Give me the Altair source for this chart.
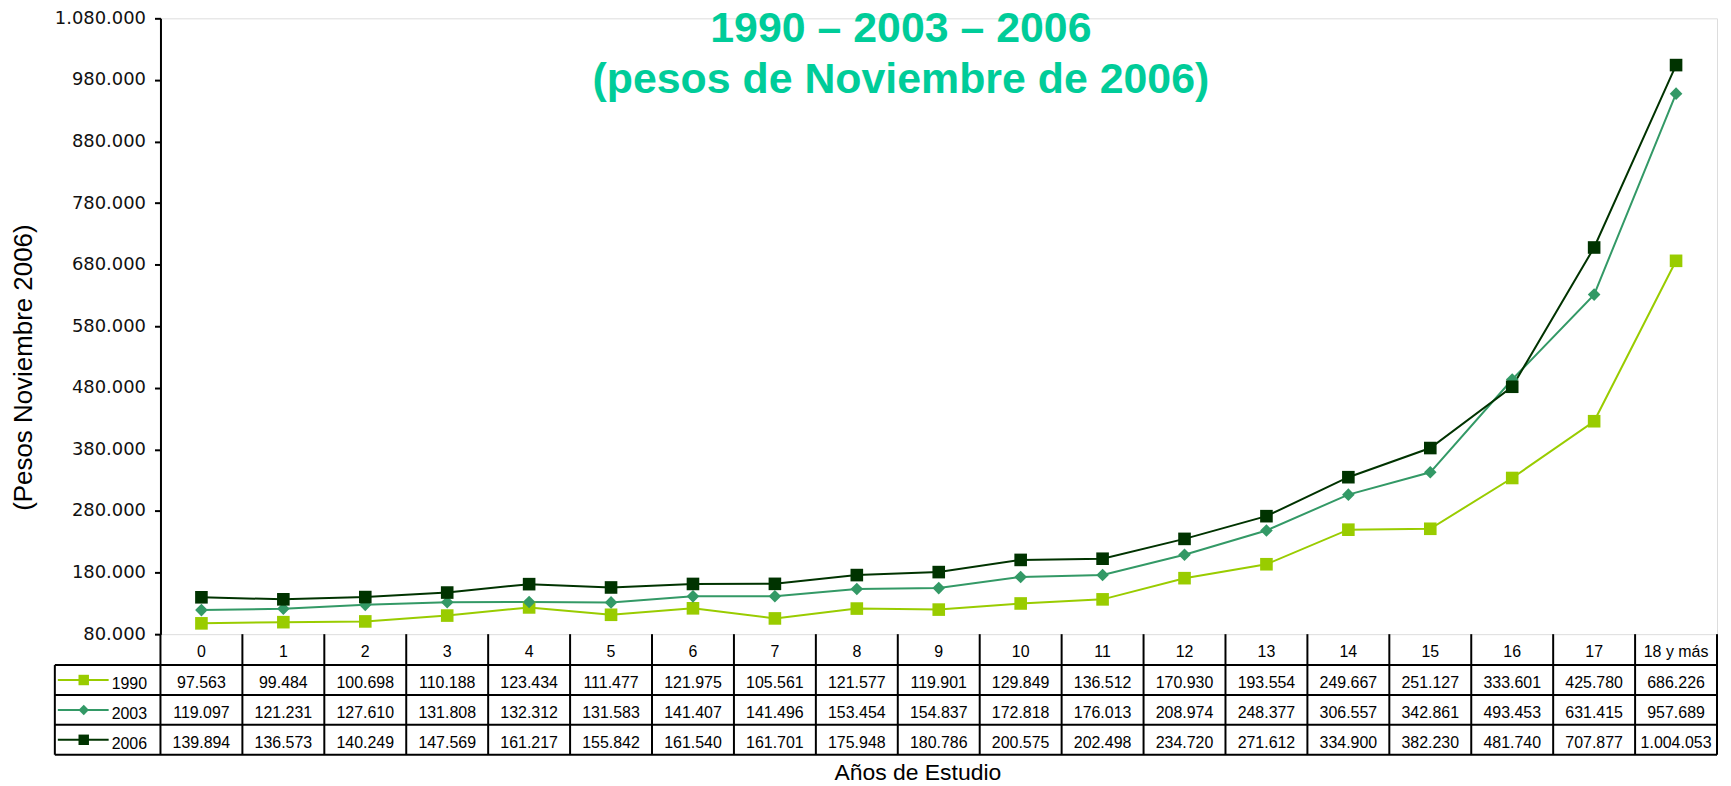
import altair as alt
import pandas as pd

# ---------------- data ----------------
cats = ["0", "1", "2", "3", "4", "5", "6", "7", "8", "9", "10", "11", "12",
        "13", "14", "15", "16", "17", "18 y más"]
years = ["1990", "2003", "2006"]
v1990 = [97563, 99484, 100698, 110188, 123434, 111477, 121975, 105561, 121577,
         119901, 129849, 136512, 170930, 193554, 249667, 251127, 333601, 425780, 686226]
v2003 = [119097, 121231, 127610, 131808, 132312, 131583, 141407, 141496, 153454,
         154837, 172818, 176013, 208974, 248377, 306557, 342861, 493453, 631415, 957689]
v2006 = [139894, 136573, 140249, 147569, 161217, 155842, 161540, 161701, 175948,
         180786, 200575, 202498, 234720, 271612, 334900, 382230, 481740, 707877, 1004053]
title1 = "1990 – 2003 – 2006"
title2 = "(pesos de Noviembre de 2006)"
x_title = "Años de Estudio"
y_title = "(Pesos Noviembre 2006)"
y_ticks = list(range(80000, 1080001, 100000))

colors = ["#99CC00", "#339966", "#003300"]
shapes = ["square", "diamond", "square"]

recs = []
for yr, vals in zip(years, [v1990, v2003, v2006]):
    for c, v in zip(cats, vals):
        recs.append({"year": yr, "row": yr, "cat": c, "val": v,
                     "lbl": f"{v:,}".replace(",", ".")})
df = pd.DataFrame(recs)
hdr = pd.DataFrame({"cat": cats, "row": ["hdr"] * len(cats)})
leg = pd.DataFrame({"year": years, "row": years})
one = pd.DataFrame({"a": [0]})

W, H = 1562, 618
FONT = "Liberation Sans"

xscale = alt.Scale(domain=cats, type="band", paddingInner=0, paddingOuter=0)
yscale = alt.Scale(domain=[80000, 1080000], nice=False, zero=False)
rowscale = alt.Scale(domain=["hdr"] + years, range=[619, 739], type="band",
                     paddingInner=0, paddingOuter=0)
colscale = alt.Scale(domain=years, range=colors)
shapescale = alt.Scale(domain=years, range=shapes)

x_main = alt.X(
    "cat:N", scale=xscale, bandPosition=0.5,
    axis=alt.Axis(labels=False, ticks=False, domain=True, domainColor="black",
                  domainWidth=2, grid=False, title=None))
y_main = alt.Y(
    "val:Q", scale=yscale,
    axis=alt.Axis(values=y_ticks,
                  labelExpr="replace(format(datum.value, ','), regexp(',', 'g'), '.')",
                  labelFont="DejaVu Sans", labelFontSize=18, labelColor="#111111",
                  labelPadding=9, tickSize=6, tickColor="black", tickWidth=2,
                  domainColor="black", domainWidth=2, grid=False,
                  title=y_title, titleFont=FONT, titleFontSize=26,
                  titleFontWeight="normal", titleColor="black", titleX=-137,
                  titleY=350, titleAngle=-90, titleAlign="center",
                  titleBaseline="middle"))

lines = alt.Chart(df).mark_line(strokeWidth=2).encode(
    x=x_main, y=y_main,
    color=alt.Color("year:N", scale=colscale, legend=None))
points = alt.Chart(df).mark_point(filled=True, opacity=1, size=160).encode(
    x=alt.X("cat:N", scale=xscale, bandPosition=0.5, axis=None),
    y=alt.Y("val:Q", scale=yscale, axis=None),
    color=alt.Color("year:N", scale=colscale, legend=None),
    shape=alt.Shape("year:N", scale=shapescale, legend=None))

x_tab = alt.X("cat:N", scale=xscale, bandPosition=0.5, axis=None)
y_row = alt.Y("row:N", scale=rowscale, bandPosition=0.5, axis=None)

hdr_text = alt.Chart(hdr).mark_text(font=FONT, fontSize=16, color="black",
                                    baseline="middle", dy=2).encode(
    x=x_tab, y=y_row, text="cat:N")
val_text = alt.Chart(df).mark_text(font=FONT, fontSize=16, color="black",
                                   baseline="middle", dy=3).encode(
    x=x_tab, y=y_row, text="lbl:N")

leg_line = alt.Chart(leg).mark_rule(strokeWidth=2).encode(
    x=alt.value(-103), x2=alt.value(-52), y=y_row,
    color=alt.Color("year:N", scale=colscale, legend=None))
leg_pt = alt.Chart(leg).mark_point(filled=True, opacity=1, size=110).encode(
    x=alt.value(-77), y=y_row,
    color=alt.Color("year:N", scale=colscale, legend=None),
    shape=alt.Shape("year:N", scale=shapescale, legend=None))
leg_txt = alt.Chart(leg).mark_text(font=FONT, fontSize=16, color="black",
                                   align="left", baseline="middle", dy=4).encode(
    x=alt.value(-49), y=y_row, text="year:N")

vgrid = alt.Chart(hdr).mark_rule(color="black", strokeWidth=2).encode(
    x=alt.X("cat:N", scale=xscale, bandPosition=0, axis=None),
    y=alt.value(618), y2=alt.value(739))
vright = alt.Chart(one).mark_rule(color="black", strokeWidth=2).encode(
    x=alt.value(W), y=alt.value(618), y2=alt.value(739))
vleft = alt.Chart(one).mark_rule(color="black", strokeWidth=2).encode(
    x=alt.value(-106), y=alt.value(649), y2=alt.value(739))
hgrid = alt.Chart(leg).mark_rule(color="black", strokeWidth=2).encode(
    x=alt.value(-106), x2=alt.value(W),
    y=alt.Y("row:N", scale=rowscale, bandPosition=0, axis=None))
hbottom = alt.Chart(one).mark_rule(color="black", strokeWidth=2).encode(
    x=alt.value(-106), x2=alt.value(W), y=alt.value(739))

def label(txt, x, y, size, weight="normal", color="black"):
    return alt.Chart(pd.DataFrame({"t": [txt]})).mark_text(
        font=FONT, fontSize=size, fontWeight=weight, color=color,
        align="center", baseline="alphabetic").encode(
        x=alt.value(x), y=alt.value(y), text="t:N")

t1 = label(title1, 743, 24, 43, "bold", "#00CC99")
t2 = label(title2, 743, 75, 43, "bold", "#00CC99")
xt = label(x_title, 760, 764, 23)

chart = alt.layer(
    lines, points, vgrid, vright, vleft, hgrid, hbottom,
    hdr_text, val_text, leg_line, leg_pt, leg_txt, t1, t2, xt
).resolve_scale(y="independent").properties(
    width=W, height=H,
    autosize=alt.AutoSizeParams(type="none"),
    padding={"left": 153, "top": 9, "right": 6, "bottom": 150},
).configure_view(stroke=None).configure(background="white")

chart.save("out.html", embed_options={"renderer": "svg", "actions": False})
